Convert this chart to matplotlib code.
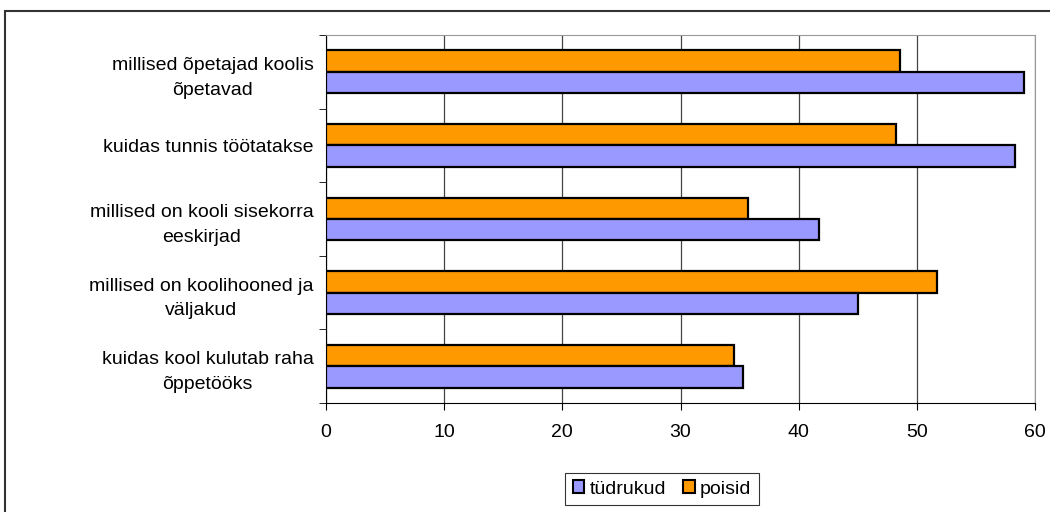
import numpy as np
import matplotlib.pyplot as plt
from matplotlib.patches import Rectangle, Patch

# andmed
kategooriad = ["millised õpetajad koolis\nõpetavad",
               "kuidas tunnis töötatakse",
               "millised on kooli sisekorra\neeskirjad",
               "millised on koolihooned ja\nväljakud",
               "kuidas kool kulutab raha\nõppetööks"]
tudrukud = [59.1, 58.3, 41.7, 45.0, 35.3]
poisid = [48.6, 48.2, 35.7, 51.7, 34.5]

plt.rcParams['font.family'] = ['Liberation Sans', 'DejaVu Sans']
fs = 14

fig = plt.figure(figsize=(10.5, 5.12), dpi=100)
ax = fig.add_axes([326/1050, 1 - 403/512, (1035-326)/1050, (403-35)/512])

# raam ümber kogu diagrammi
fig.patches.append(Rectangle((5/1050, -0.1), 1.2, 1 - 11/512 + 0.1,
                             transform=fig.transFigure, fill=False,
                             edgecolor='#333333', linewidth=1.5))

y = np.arange(len(kategooriad))
h = 0.29
ax.barh(y - h/2, poisid, height=h, color='#FF9900', edgecolor='black',
        linewidth=1.6, zorder=3)
ax.barh(y + h/2, tudrukud, height=h, color='#9999FF', edgecolor='black',
        linewidth=1.6, zorder=3)

ax.set_xlim(0, 60)
ax.set_ylim(len(kategooriad) - 0.5, -0.5)
ax.set_xticks(np.arange(0, 61, 10))
ax.set_yticks(y)
ax.set_yticklabels(kategooriad, fontsize=fs, ha='right', multialignment='center',
                   linespacing=1.6)
ax.set_yticks(np.arange(-0.5, len(kategooriad)), minor=True)
ax.tick_params(axis='y', which='major', length=0, pad=9)
ax.tick_params(axis='y', which='minor', length=5, direction='out')
ax.tick_params(axis='x', length=5, direction='out', labelsize=fs, pad=10)

ax.grid(axis='x', color='#444444', linewidth=0.9, zorder=0)
for s in ['top', 'right']:
    ax.spines[s].set_color('#999999')
for s in ['left', 'bottom']:
    ax.spines[s].set_color('black')

kast = [Patch(facecolor='#9999FF', edgecolor='black', linewidth=1.5, label='tüdrukud'),
        Patch(facecolor='#FF9900', edgecolor='black', linewidth=1.5, label='poisid')]
leg = fig.legend(handles=kast, loc='center', bbox_to_anchor=(662/1050, 1 - 489/512),
                 ncol=2, fontsize=fs, frameon=True, fancybox=False,
                 handlelength=0.6, handleheight=0.6, handletextpad=0.25,
                 columnspacing=0.9, borderpad=0.4)
leg.get_frame().set_edgecolor('black')
leg.get_frame().set_linewidth(0.8)

fig.savefig('out.png', dpi=100)
